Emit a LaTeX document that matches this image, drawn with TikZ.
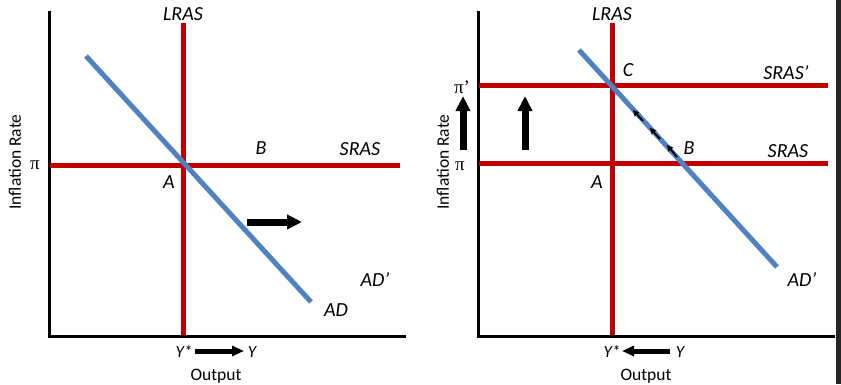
\documentclass[tikz,border=0pt]{standalone}
\usepackage{fontspec}
\setmainfont{Carlito}
\newfontfamily\pifont{Liberation Serif}
\usetikzlibrary{arrows.meta}
\definecolor{curvered}{HTML}{C00000}
\definecolor{adblue}{HTML}{5082C2}
\definecolor{edgebar}{HTML}{262626}
\begin{document}
\begin{tikzpicture}[x=1pt,y=-1pt,
  axisline/.style={line width=3pt, black},
  redline/.style={line width=5pt, curvered},
  blueline/.style={line width=5pt, adblue},
  lbl/.style={font=\fontsize{20}{24}\selectfont\itshape, anchor=base, inner sep=0pt},
  ylbl/.style={font=\fontsize{17}{20}\selectfont\itshape, anchor=base, inner sep=0pt},
  pilbl/.style={font=\fontsize{19}{22}\selectfont\pifont, anchor=base, inner sep=0pt},
  ttl/.style={font=\fontsize{17.5}{21}\selectfont, inner sep=0pt},
  fatarrow/.style={line width=7pt, -{Triangle[length=15pt,width=14pt]}},
  midarrow/.style={line width=5pt, -{Triangle[length=12pt,width=10pt]}},
  tinyarrow/.style={line width=1.8pt, -{Triangle[length=6pt,width=6pt]}}
]
\useasboundingbox (0,0) rectangle (841,384);
\fill[white] (0,0) rectangle (841,384);
\fill[edgebar] (836,0) rectangle (841,384);

% ---------------- Left panel ----------------
\coordinate (Ltop) at (49,11);
\coordinate (Lorig) at (49,336);
\coordinate (Lxend) at (406,336);
\draw[axisline] (Ltop) -- (Lorig) -- (Lxend);

\coordinate (LlrasT) at (183,23);
\coordinate (LlrasB) at (183,335);
\draw[redline] (LlrasT) -- (LlrasB);
\coordinate (LsrasL) at (50,165);
\coordinate (LsrasR) at (400,165);
\draw[redline] (LsrasL) -- (LsrasR);
\coordinate (LadT) at (86,56);
\coordinate (LadB) at (311,302);
\draw[blueline] (LadT) -- (LadB);

\node[lbl] (lLRAS) at (183,20) {LRAS};
\node[lbl] (lB) at (261,154) {B};
\node[lbl] (lSRAS) at (360,155) {SRAS};
\node[lbl] (lA) at (169,188) {A};
\node[lbl] (lADp) at (375,286) {AD’};
\node[lbl] (lAD) at (336,316) {AD};
\node[pilbl] (lpi) at (35,169) {π};

\coordinate (LshT) at (247,222);
\coordinate (LshH) at (302,222);
\draw[fatarrow] (LshT) -- (LshH);

\node[ylbl] (lYs) at (184,357) {Y*};
\node[ylbl] (lY) at (252,357) {Y};
\coordinate (LyT) at (195,351);
\coordinate (LyH) at (244,351);
\draw[midarrow] (LyT) -- (LyH);

\node[ttl, anchor=base] (lOut) at (216,380) {Output};
\node[ttl, rotate=90] (lInf) at (15,162) {Inflation Rate};

% ---------------- Right panel ----------------
\coordinate (Rtop) at (478,11);
\coordinate (Rorig) at (478,336);
\coordinate (Rxend) at (835,336);
\draw[axisline] (Rtop) -- (Rorig) -- (Rxend);

\coordinate (RlrasT) at (612,23);
\coordinate (RlrasB) at (612,335);
\draw[redline] (RlrasT) -- (RlrasB);
\coordinate (RsrasPL) at (479,85);
\coordinate (RsrasPR) at (828,85);
\draw[redline] (RsrasPL) -- (RsrasPR);
\coordinate (RsrasL) at (479,163);
\coordinate (RsrasR) at (828,163);
\draw[redline] (RsrasL) -- (RsrasR);
\coordinate (RadT) at (579,50);
\coordinate (RadB) at (777,267);
\draw[blueline] (RadT) -- (RadB);

\node[lbl] (rLRAS) at (612,20) {LRAS};
\node[lbl] (rC) at (628,76) {C};
\node[lbl] (rSRASp) at (786,79) {SRAS’};
\node[lbl] (rB) at (689,154) {B};
\node[lbl] (rSRAS) at (788,157) {SRAS};
\node[lbl] (rA) at (597,188) {A};
\node[lbl] (rADp) at (802,286) {AD’};
\node[pilbl] (rpip) at (462,93) {π’};
\node[pilbl] (rpi) at (460,170) {π};

\coordinate (RupAT) at (463,150);
\coordinate (RupAH) at (463,96);
\draw[fatarrow] (RupAT) -- (RupAH);
\coordinate (RupBT) at (525,150);
\coordinate (RupBH) at (525,96);
\draw[fatarrow] (RupBT) -- (RupBH);

\coordinate (t1a) at (643,121);
\coordinate (t1b) at (633,110);
\coordinate (t2a) at (660,139);
\coordinate (t2b) at (650,128);
\coordinate (t3a) at (677,157);
\coordinate (t3b) at (667,145);
\draw[tinyarrow] (t1a) -- (t1b);
\draw[tinyarrow] (t2a) -- (t2b);
\draw[tinyarrow] (t3a) -- (t3b);

\node[ylbl] (rYs) at (612,357) {Y*};
\node[ylbl] (rY) at (680,357) {Y};
\coordinate (RyT) at (670,351);
\coordinate (RyH) at (622,351);
\draw[midarrow] (RyT) -- (RyH);

\node[ttl, anchor=base] (rOut) at (646,380) {Output};
\node[ttl, rotate=90] (rInf) at (443,162) {Inflation Rate};
\end{tikzpicture}
\end{document}
